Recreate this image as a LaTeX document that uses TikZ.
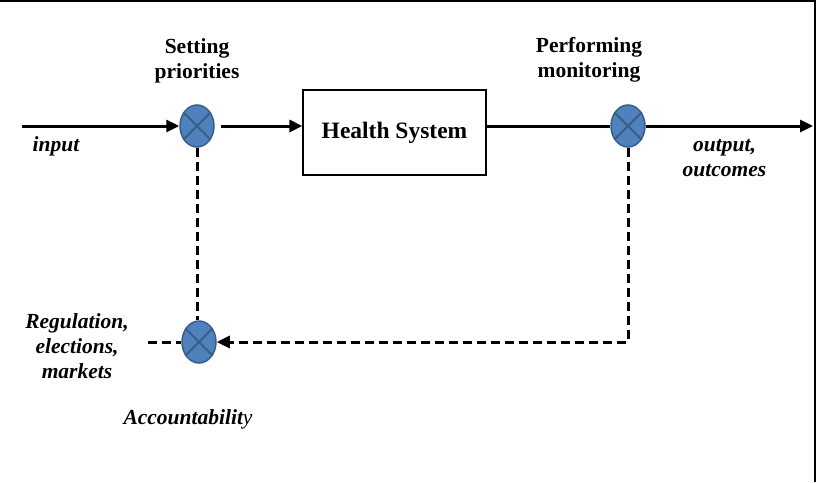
\documentclass[tikz,border=0pt]{standalone}
\usepackage{fontspec}
\setmainfont{Liberation Serif}
\usepackage{tikz}
\usetikzlibrary{positioning,arrows.meta,shapes.geometric}
\definecolor{sumfill}{HTML}{4F81BD}
\definecolor{sumedge}{HTML}{385D8A}
\newcommand{\sumcross}[1]{%
  \draw[sumedge,line width=1.8pt] (#1.45) -- (#1.225) (#1.135) -- (#1.315);
}

\begin{document}
\begin{tikzpicture}[x=1pt,y=-1pt,
  sumnode/.style={ellipse,draw=sumedge,fill=sumfill,line width=1.5pt,
    minimum width=34pt,minimum height=42pt,inner sep=0pt},
  flow/.style={line width=3pt,-{Triangle[length=13pt,width=12pt]}},
  fb/.style={line width=3pt,dash pattern=on 9pt off 5pt},
  lbl/.style={font=\fontsize{21.5}{25}\selectfont\bfseries,align=center},
  ilbl/.style={font=\fontsize{21.5}{25}\selectfont\bfseries\itshape,align=center}]
  \useasboundingbox (0,0) rectangle (821,482);
  % frame (top and right only)
  \draw[line width=1.5pt] (0,1) -- (815,1) -- (815,482);

  % junctions
  \node[sumnode] (sp) at (197,126) {};
  \node[sumnode] (pm) at (628,126) {};
  \node[sumnode] (acc) at (199,342) {};
  \sumcross{sp}\sumcross{pm}\sumcross{acc}

  \node[draw,line width=1.2pt,minimum width=183pt,minimum height=85pt,
    font=\fontsize{23.5}{27}\selectfont\bfseries] (hs) at (394.5,132.5) {Health System};

  % labels
  \node[lbl] (splbl) at (197,61) {Setting\\priorities};
  \node[lbl] (pmlbl) at (589,60) {Performing\\monitoring};
  \node[ilbl] (inlbl) at (56,146) {input};
  \node[ilbl] (outlbl) at (724.5,158) {output,\\outcomes};
  \node[ilbl] (reglbl) at (77,346) {Regulation,\\elections,\\markets};
  \node[ilbl] (acclbl) at (188,419) {Accountabilit\textmd{y}};

  % flow
  \coordinate (in) at (22,126);
  \coordinate (out) at (813,126);
  \coordinate (reg) at (148,342);
  \draw[flow] (in) -- (sp.west);
  \draw[flow] ([xshift=6pt]sp.east) -- (sp -| hs.west);
  \draw[line width=3pt] (hs.east |- pm) -- (pm.west);
  \draw[flow] (pm.east) -- (out);

  % feedback
  \draw[fb] (sp.south) -- (sp.south |- acc.north);
  \draw[fb,-{Triangle[length=13pt,width=12pt]}] (pm.south) |- (acc.east);
  \draw[fb] (reg) -- (acc.west);
\end{tikzpicture}
\end{document}
